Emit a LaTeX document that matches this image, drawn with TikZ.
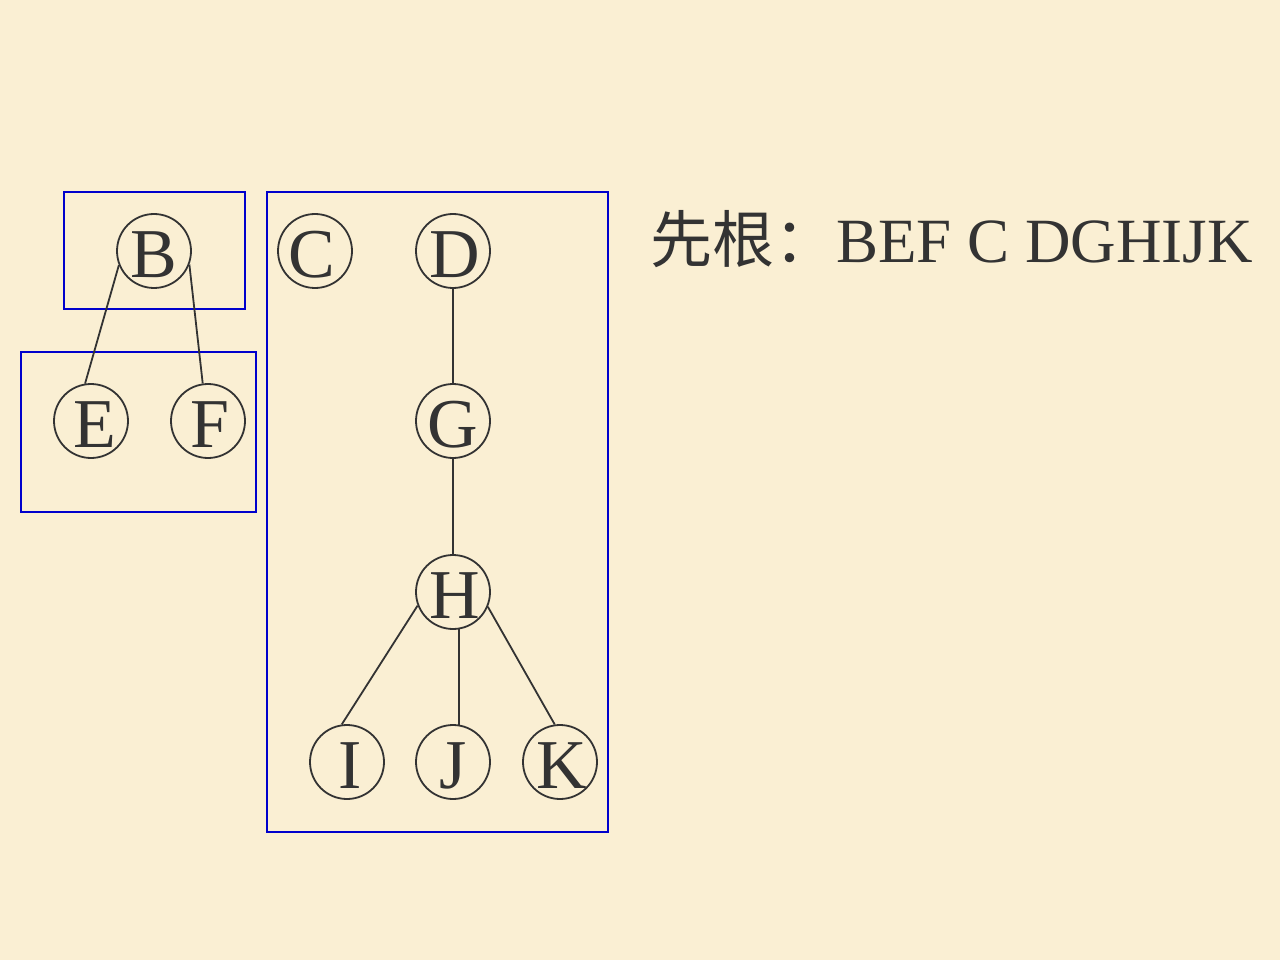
\documentclass[tikz,border=0pt]{standalone}
\usepackage{fontspec}
\setmainfont{Liberation Serif}
\newfontfamily\cjk{Noto Sans CJK SC}
\definecolor{MyPaper}{HTML}{FAEFD3}
\definecolor{MyInk}{HTML}{333333}
\definecolor{MyBlue}{HTML}{0000CC}

\begin{document}
\begin{tikzpicture}[x=1pt,y=-1pt,
    vtx/.style={circle,draw=MyInk,line width=1.8pt,minimum size=74pt,inner sep=0pt},
    ltr/.style={text=MyInk,font=\fontsize{70}{80}\selectfont,inner sep=0pt,yshift=-4pt},
    grp/.style={draw=MyBlue,line width=1.8pt},
    edge/.style={draw=MyInk,line width=1.8pt}]

            \fill[MyPaper] (0,0) rectangle (1280,960);
            \useasboundingbox (0,0) rectangle (1280,960);

            \draw[grp] (64,192) rectangle (245,309);
            \draw[grp] (21,352) rectangle (256,512);
            \draw[grp] (267,192) rectangle (608,832);

            \node[vtx,label={[ltr]center:B}] (b) at (154,251) {};
            \node[vtx,label={[ltr,xshift=4pt]center:E}] (e) at (91,421) {};
            \node[vtx,label={[ltr,xshift=2pt]center:F}] (f) at (208,421) {};
            \node[vtx,label={[ltr,xshift=-3pt]center:C}] (c) at (315,251) {};
            \node[vtx,label={[ltr,xshift=2pt]center:D}] (d) at (453,251) {};
            \node[vtx,label={[ltr]center:G}] (g) at (453,421) {};
            \node[vtx,label={[ltr,xshift=2pt]center:H}] (h) at (453,592) {};
            \node[vtx,label={[ltr,xshift=3pt]center:I}] (i) at (347,762) {};
            \node[vtx,label={[ltr]center:J}] (j) at (453,762) {};
            \node[vtx,label={[ltr,xshift=2pt]center:K}] (k) at (560,762) {};

            \draw[edge] (b.-158)--(e.99);
            \draw[edge] (b.-21)--(f.98);
            \draw[edge] (d)--(g);
            \draw[edge] (g)--(h);
            \draw[edge] (h.-159)--(i.98);
            \draw[edge] (h.-81)--(j.81);
            \draw[edge] (h.-23)--(k.98);

            \node[anchor=base west,inner sep=0pt,text=MyInk,font=\fontsize{63}{72}\selectfont] (pre) at (650,262)
                {{\cjk\fontsize{62}{70}\selectfont 先根：}BEF C DGHIJK};
\end{tikzpicture}
\end{document}
